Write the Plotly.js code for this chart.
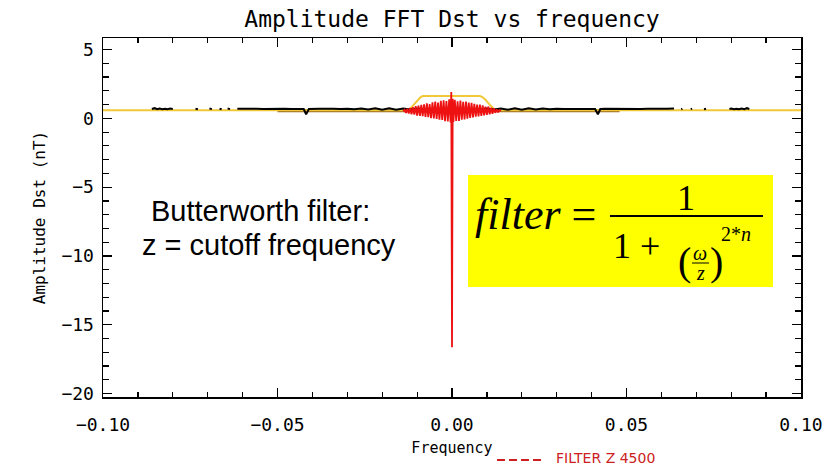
<!DOCTYPE html>
<html>
<head>
<meta charset="utf-8">
<script src="https://cdn.plot.ly/plotly-3.0.1.min.js"></script>
<style>html,body{margin:0;padding:0;background:#fff;}#chart{width:832px;height:470px;}</style>
</head>
<body>
<div id="chart"></div>
<script>
// ---- data ----
const titleText = "Amplitude FFT Dst vs frequency";
const xTitle = "Frequency";
const yTitle = "Amplitude Dst (nT)";
const legendLabel = "FILTER Z 4500";
const noteLines = ["Butterworth filter:", "z = cutoff frequency"];

// Butterworth filter response (yellow)
const filterX = [-0.100, -0.0126, -0.0118, -0.0108, -0.0098, -0.0090, -0.0083, 0.0080, 0.0087, 0.0096, 0.0106, 0.0116, 0.0124, 0.100];
const filterY = [0.59, 0.59, 0.75, 1.05, 1.35, 1.55, 1.62, 1.62, 1.55, 1.35, 1.05, 0.75, 0.59, 0.59];

// underlying (brown) spectrum band
const bandX = [-0.050, -0.030, -0.012, 0.012, 0.030, 0.048];
const bandY = [0.55, 0.55, 0.55, 0.55, 0.55, 0.55];

// FFT amplitude of Dst, outer part (black)
const fftX = [-0.0860, -0.0852, -0.0845, -0.0838, -0.0830, -0.0822, -0.0815, -0.0808, -0.0800, -0.0795,
  -0.0735, -0.0728, -0.0722,
  -0.0695, -0.0688, -0.0684,
  -0.0666, -0.0660, -0.0657,
  -0.0643, -0.0636, -0.0633,
  -0.0615, -0.060, -0.058, -0.056, -0.054, -0.052, -0.050, -0.048, -0.046, -0.044, -0.0425, -0.0418, -0.041,
  -0.038, -0.036, -0.034, -0.032, -0.030, -0.028, -0.026, -0.024, -0.022, -0.020, -0.018, -0.016, -0.014,
  -0.012, -0.010, -0.008, -0.006, -0.004, -0.002, 0.000, 0.002, 0.004, 0.006, 0.008, 0.010, 0.012,
  0.014, 0.016, 0.018, 0.020, 0.022, 0.024, 0.026, 0.028, 0.030, 0.032, 0.034, 0.036, 0.038,
  0.041, 0.0418, 0.0425, 0.044, 0.046, 0.048, 0.050, 0.052, 0.054, 0.056, 0.058, 0.060, 0.0615,
  0.0633, 0.0636, 0.0643,
  0.0657, 0.0660, 0.0666,
  0.0684, 0.0688, 0.0695,
  0.0722, 0.0728, 0.0735,
  0.0795, 0.0800, 0.0808, 0.0815, 0.0822, 0.0830, 0.0838, 0.0845, 0.0852, 0.0860];
const fftY = [0.68, 0.74, 0.66, 0.72, 0.66, 0.70, 0.67, 0.71, 0.68, null,
  0.70, 0.66, null,
  0.71, 0.67, null,
  0.70, 0.66, null,
  0.71, 0.67, null,
  0.69, 0.70, 0.67, 0.69, 0.68, 0.70, 0.67, 0.69, 0.68, 0.69, 0.68, 0.30, 0.68,
  0.70, 0.67, 0.69, 0.68, 0.70, 0.66, 0.71, 0.65, 0.73, 0.62, 0.74, 0.62, 0.72,
  0.64, 0.71, 0.66, 0.70, 0.67, 0.69, 0.68, 0.69, 0.67, 0.70, 0.66, 0.71, 0.64,
  0.72, 0.62, 0.74, 0.62, 0.73, 0.65, 0.71, 0.66, 0.70, 0.68, 0.69, 0.67, 0.70,
  0.68, 0.30, 0.68, 0.69, 0.68, 0.69, 0.67, 0.70, 0.68, 0.69, 0.67, 0.70, 0.69,
  0.67, 0.71, null,
  0.66, 0.70, null,
  0.67, 0.71, null,
  0.66, 0.70, null,
  0.68, 0.71, 0.67, 0.70, 0.66, 0.72, 0.66, 0.74, 0.68, null];

// filtered FFT near zero frequency (red)
const lowX = [-0.0140, -0.0136, -0.0132, -0.0128, -0.0124, -0.0120, -0.0116, -0.0112, -0.0108, -0.0104,
  -0.0100, -0.0096, -0.0092, -0.0088, -0.0084, -0.0080, -0.0076, -0.0072, -0.0068, -0.0064,
  -0.0060, -0.0056, -0.0052, -0.0048, -0.0044, -0.0040, -0.0036, -0.0032, -0.0028, -0.0024,
  -0.0020, -0.0016, -0.0012, -0.0008, -0.0004, -0.0002, 0.0000, 0.0002,
  0.0004, 0.0008, 0.0012, 0.0016, 0.0020, 0.0024, 0.0028, 0.0032, 0.0036, 0.0040,
  0.0044, 0.0048, 0.0052, 0.0056, 0.0060, 0.0064, 0.0068, 0.0072, 0.0076, 0.0080,
  0.0084, 0.0088, 0.0092, 0.0096, 0.0100, 0.0104, 0.0108, 0.0112, 0.0116, 0.0120,
  0.0124, 0.0128, 0.0132, 0.0136, 0.0140];
const lowY = [0.52, 0.62, 0.40, 0.70, 0.36, 0.76, 0.30, 0.82, 0.28, 0.88,
  0.20, 0.92, 0.18, 0.98, 0.16, 1.02, 0.10, 1.10, 0.08, 1.04,
  0.02, 1.16, 0.00, 1.22, -0.04, 1.14, -0.10, 1.28, -0.12, 1.32,
  -0.20, 1.26, -0.22, 1.38, -0.30, 1.91, -16.64, 1.42,
  -0.26, 1.34, -0.18, 1.24, -0.18, 1.30, -0.10, 1.20, -0.08, 1.22,
  -0.02, 1.14, 0.04, 1.12, 0.06, 1.06, 0.12, 1.00, 0.14, 1.00,
  0.18, 0.94, 0.22, 0.86, 0.26, 0.86, 0.30, 0.78, 0.34, 0.74,
  0.40, 0.66, 0.44, 0.60, 0.54];

// ---- geometry helpers (pixel -> paper) ----
const L = 103, R = 801, T = 38, B = 397;
const px = x => (x - L) / (R - L);
const py = y => (B - y) / (B - T);

const traces = [
  {x: bandX, y: bandY, mode: 'lines', line: {color: '#9a6a22', width: 3}, hoverinfo: 'skip', showlegend: false},
  {x: filterX, y: filterY, mode: 'lines', line: {color: '#f0c838', width: 2}, showlegend: false},
  {x: fftX, y: fftY, mode: 'lines', line: {color: '#000000', width: 2}, connectgaps: false, showlegend: false},
  {x: lowX, y: lowY, mode: 'lines', line: {color: '#ee1111', width: 1.8}, showlegend: false}
];

const serif = 'Liberation Serif, Times New Roman, serif';
const ann = (text, x, y, opts) => Object.assign({
  text: text, xref: 'paper', yref: 'paper', x: px(x), y: py(y), showarrow: false,
  xanchor: 'center', yanchor: 'middle', font: {family: serif, size: 34, color: '#000'}
}, opts || {});

const layout = {
  width: 832, height: 470,
  margin: {l: L, r: 832 - R, t: T, b: 470 - B},
  paper_bgcolor: '#ffffff', plot_bgcolor: '#ffffff',
  showlegend: false,
  title: {text: titleText, x: 0.5, xref: 'paper', xanchor: 'center', y: 1 - 19 / 470, yref: 'container', yanchor: 'middle',
          font: {family: 'DejaVu Sans Mono', size: 23, color: '#000'}},
  xaxis: {
    range: [-0.1, 0.1], tick0: 0, dtick: 0.05, tickformat: '.2f',
    ticks: 'inside', ticklen: 9, tickwidth: 1.2, tickcolor: '#000',
    showline: true, linecolor: '#000', linewidth: 1.5, mirror: 'allticks',
    showgrid: false, zeroline: false,
    minor: {dtick: 0.01, ticks: 'inside', ticklen: 5, tickwidth: 1.2, tickcolor: '#000', showgrid: false},
    tickfont: {family: 'DejaVu Sans Mono', size: 18, color: '#000'},
    ticklabelstandoff: 11,
    title: {text: xTitle, font: {family: 'DejaVu Sans Mono', size: 15, color: '#000'}, standoff: 8}
  },
  yaxis: {
    range: [-20.25, 5.84], tick0: 0, dtick: 5,
    ticks: 'inside', ticklen: 9, tickwidth: 1.2, tickcolor: '#000',
    showline: true, linecolor: '#000', linewidth: 1.5, mirror: 'allticks',
    showgrid: false, zeroline: false,
    minor: {dtick: 1, ticks: 'inside', ticklen: 6, tickwidth: 1.2, tickcolor: '#000', showgrid: false},
    tickfont: {family: 'DejaVu Sans Mono', size: 18, color: '#000'},
    ticklabelstandoff: 4,
    title: {text: yTitle, font: {family: 'DejaVu Sans Mono', size: 16, color: '#000'}, standoff: 12}
  },
  shapes: [
    {type: 'rect', xref: 'paper', yref: 'paper', x0: px(468), x1: px(773), y0: py(287), y1: py(175),
     fillcolor: '#ffff00', line: {width: 0}, layer: 'above'},
    {type: 'line', xref: 'paper', yref: 'paper', x0: px(610), x1: px(763), y0: py(216), y1: py(216),
     line: {color: '#000', width: 2}, layer: 'above'},
    {type: 'line', xref: 'paper', yref: 'paper', x0: px(692), x1: px(709), y0: py(263), y1: py(263),
     line: {color: '#000', width: 1}, layer: 'above'},
    {type: 'line', xref: 'paper', yref: 'paper', x0: px(497), x1: px(543), y0: py(460), y1: py(460),
     line: {color: '#cc2020', width: 2, dash: '8px,4px'}}
  ],
  annotations: [
    ann(noteLines[0], 260, 211, {font: {family: 'Liberation Sans, Arial, sans-serif', size: 29, color: '#000'}}),
    ann(noteLines[1], 269, 245, {font: {family: 'Liberation Sans, Arial, sans-serif', size: 29, color: '#000'}}),
    ann('<i>filter</i> =', 473, 214, {xanchor: 'left', font: {family: serif, size: 44, color: '#000'}}),
    ann('1', 686, 198, {font: {family: serif, size: 36, color: '#000'}}),
    ann('1 +', 611, 246, {xanchor: 'left', font: {family: serif, size: 36, color: '#000'}}),
    ann('(', 684, 261, {font: {family: serif, size: 40, color: '#000'}}),
    ann(')', 716, 261, {font: {family: serif, size: 40, color: '#000'}}),
    ann('<i>ω</i>', 700, 253, {font: {family: serif, size: 20, color: '#000'}}),
    ann('<i>z</i>', 700, 273, {font: {family: serif, size: 20, color: '#000'}}),
    ann('2*<i>n</i>', 719, 234, {xanchor: 'left', font: {family: serif, size: 20, color: '#000'}}),
    ann(legendLabel, 554, 458, {xanchor: 'left', font: {family: 'DejaVu Sans', size: 14, color: '#cc2020'}})
  ]
};

Plotly.newPlot('chart', traces, layout, {displayModeBar: false, staticPlot: true});
</script>
</body>
</html>
